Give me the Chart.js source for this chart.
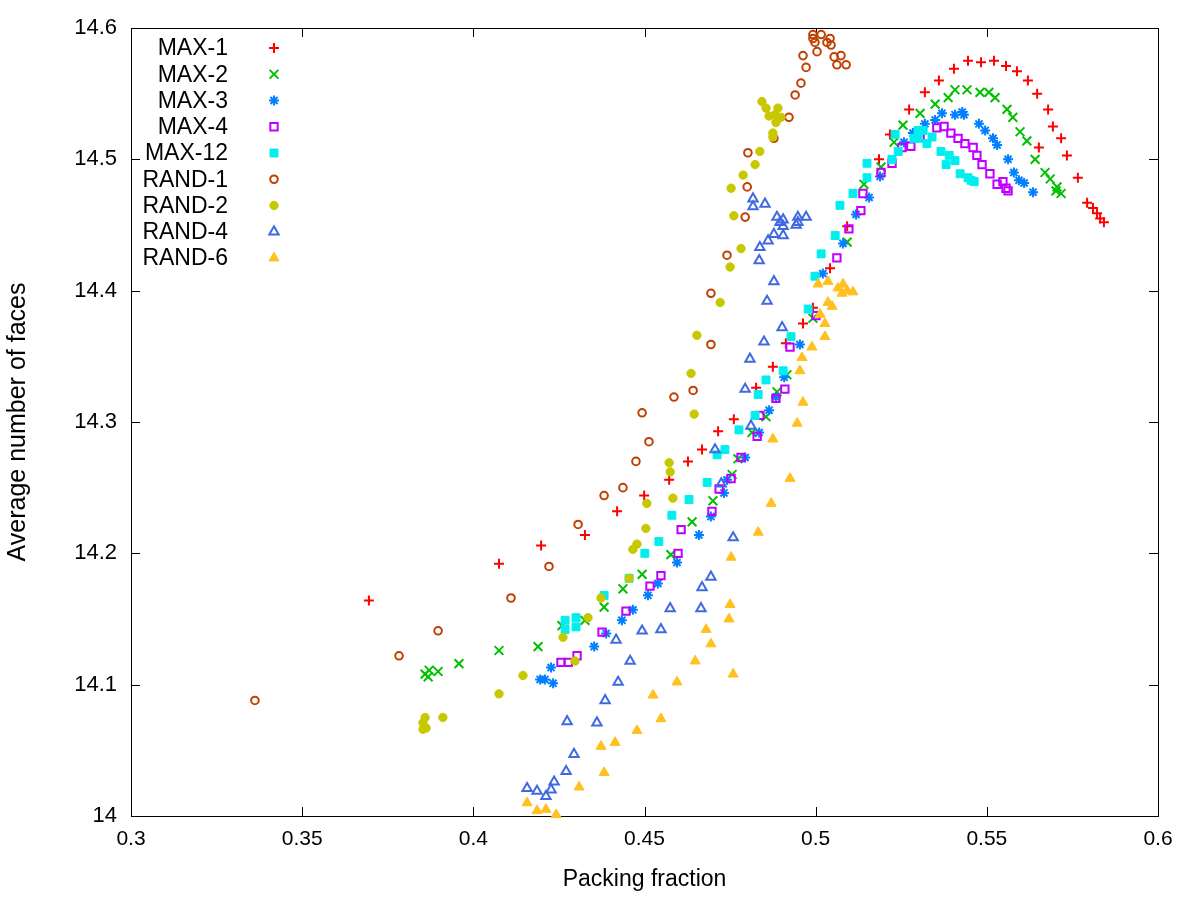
<!DOCTYPE html>
<html>
<head>
<meta charset="utf-8">
<title>Average number of faces vs packing fraction</title>
<script src="https://cdn.jsdelivr.net/npm/chart.js@4.4.1/dist/chart.umd.min.js"></script>
<style>
  html, body { margin: 0; padding: 0; background: #fff; }
  canvas { display: block; }
</style>
</head>
<body>
<canvas id="faces" width="1200" height="900"></canvas>
<script>
// series names, in the order of the key
const seriesNames = ['MAX-1', 'MAX-2', 'MAX-3', 'MAX-4', 'MAX-12', 'RAND-1', 'RAND-2', 'RAND-4', 'RAND-6'];

// [packing fraction, average number of faces]
const max1 = [[0.3695,14.164],[0.4075,14.192],[0.4198,14.206],[0.4326,14.214],[0.4420,14.232],[0.4499,14.244],[0.4572,14.256],[0.4627,14.270],[0.4668,14.279],[0.4715,14.293],[0.4761,14.302],[0.4826,14.326],[0.4875,14.342],[0.4913,14.360],[0.4963,14.375],[0.4992,14.387],[0.5042,14.417],[0.5092,14.449],[0.5185,14.500],[0.5217,14.519],[0.5273,14.538],[0.5319,14.551],[0.5360,14.560],[0.5404,14.569],[0.5445,14.575],[0.5483,14.574],[0.5521,14.575],[0.5556,14.571],[0.5588,14.567],[0.5620,14.560],[0.5647,14.550],[0.5652,14.509],[0.5679,14.538],[0.5693,14.525],[0.5717,14.516],[0.5734,14.503],[0.5766,14.486],[0.5793,14.467],[0.5810,14.463],[0.5822,14.459],[0.5831,14.455],[0.5842,14.452]];
const max2 = [[0.3859,14.108],[0.3868,14.106],[0.3871,14.111],[0.3897,14.110],[0.3958,14.116],[0.4075,14.126],[0.4189,14.129],[0.4259,14.145],[0.4326,14.149],[0.4382,14.159],[0.4437,14.173],[0.4493,14.184],[0.4577,14.199],[0.4639,14.224],[0.4700,14.240],[0.4756,14.260],[0.4773,14.272],[0.4814,14.292],[0.4855,14.304],[0.4887,14.323],[0.4916,14.336],[0.4992,14.379],[0.5092,14.437],[0.5141,14.481],[0.5191,14.494],[0.5229,14.513],[0.5255,14.526],[0.5305,14.535],[0.5349,14.542],[0.5387,14.547],[0.5407,14.553],[0.5442,14.553],[0.5480,14.551],[0.5506,14.551],[0.5524,14.547],[0.5559,14.538],[0.5576,14.532],[0.5597,14.521],[0.5617,14.514],[0.5641,14.500],[0.5670,14.490],[0.5685,14.485],[0.5705,14.479],[0.5702,14.476],[0.5717,14.474]];
const max3 = [[0.4195,14.104],[0.4209,14.104],[0.4227,14.113],[0.4233,14.101],[0.4353,14.129],[0.4388,14.139],[0.4434,14.149],[0.4466,14.157],[0.4510,14.168],[0.4539,14.177],[0.4595,14.193],[0.4659,14.214],[0.4694,14.228],[0.4732,14.246],[0.4741,14.256],[0.4794,14.273],[0.4835,14.292],[0.4864,14.309],[0.4884,14.319],[0.4908,14.334],[0.4954,14.359],[0.5021,14.413],[0.5080,14.436],[0.5118,14.458],[0.5156,14.471],[0.5188,14.487],[0.5258,14.513],[0.5284,14.520],[0.5319,14.527],[0.5349,14.530],[0.5369,14.535],[0.5407,14.534],[0.5428,14.536],[0.5433,14.534],[0.5477,14.527],[0.5495,14.522],[0.5518,14.516],[0.5530,14.511],[0.5562,14.500],[0.5579,14.490],[0.5594,14.484],[0.5609,14.482],[0.5635,14.475]];
const max4 = [[0.4256,14.117],[0.4277,14.117],[0.4303,14.122],[0.4376,14.140],[0.4446,14.156],[0.4516,14.175],[0.4548,14.183],[0.4598,14.200],[0.4607,14.218],[0.4697,14.232],[0.4718,14.249],[0.4753,14.257],[0.4782,14.273],[0.4829,14.289],[0.4837,14.305],[0.4884,14.318],[0.4910,14.325],[0.4925,14.357],[0.5001,14.381],[0.5062,14.425],[0.5097,14.447],[0.5132,14.461],[0.5138,14.474],[0.5191,14.490],[0.5223,14.497],[0.5252,14.509],[0.5278,14.510],[0.5305,14.517],[0.5354,14.524],[0.5375,14.525],[0.5395,14.520],[0.5416,14.516],[0.5436,14.512],[0.5460,14.509],[0.5471,14.503],[0.5486,14.496],[0.5509,14.489],[0.5530,14.481],[0.5547,14.483],[0.5556,14.478],[0.5562,14.476]];
const max12 = [[0.4268,14.149],[0.4268,14.142],[0.4300,14.151],[0.4300,14.144],[0.4382,14.168],[0.4455,14.181],[0.4501,14.200],[0.4542,14.209],[0.4580,14.229],[0.4630,14.241],[0.4683,14.254],[0.4712,14.275],[0.4735,14.279],[0.4776,14.294],[0.4823,14.305],[0.4832,14.321],[0.4855,14.332],[0.4905,14.339],[0.4928,14.365],[0.4978,14.386],[0.4998,14.411],[0.5016,14.428],[0.5057,14.442],[0.5071,14.465],[0.5109,14.474],[0.5150,14.486],[0.5150,14.497],[0.5223,14.500],[0.5232,14.519],[0.5241,14.506],[0.5287,14.516],[0.5299,14.522],[0.5299,14.516],[0.5314,14.522],[0.5325,14.512],[0.5340,14.517],[0.5366,14.506],[0.5381,14.496],[0.5390,14.503],[0.5407,14.499],[0.5422,14.489],[0.5445,14.486],[0.5454,14.484],[0.5463,14.483]];
const rand1 = [[0.3362,14.088],[0.3783,14.122],[0.3897,14.141],[0.4110,14.166],[0.4221,14.190],[0.4306,14.222],[0.4382,14.244],[0.4437,14.250],[0.4475,14.270],[0.4493,14.307],[0.4513,14.285],[0.4586,14.319],[0.4642,14.324],[0.4694,14.359],[0.4694,14.398],[0.4741,14.427],[0.4794,14.456],[0.4800,14.479],[0.4802,14.505],[0.4878,14.516],[0.4922,14.532],[0.4940,14.549],[0.4957,14.558],[0.4963,14.579],[0.4972,14.570],[0.4992,14.595],[0.4992,14.592],[0.4998,14.589],[0.5004,14.582],[0.5016,14.595],[0.5033,14.589],[0.5042,14.592],[0.5045,14.587],[0.5054,14.578],[0.5074,14.579],[0.5062,14.572],[0.5089,14.572]];
const rand2 = [[0.3853,14.071],[0.3853,14.066],[0.3859,14.075],[0.3862,14.067],[0.3911,14.075],[0.4075,14.093],[0.4145,14.107],[0.4262,14.136],[0.4297,14.118],[0.4335,14.151],[0.4373,14.166],[0.4455,14.181],[0.4466,14.203],[0.4478,14.207],[0.4504,14.219],[0.4507,14.238],[0.4572,14.269],[0.4575,14.262],[0.4583,14.242],[0.4645,14.306],[0.4636,14.337],[0.4653,14.366],[0.4721,14.391],[0.4750,14.418],[0.4782,14.432],[0.4761,14.457],[0.4753,14.478],[0.4788,14.488],[0.4823,14.496],[0.4837,14.506],[0.4875,14.520],[0.4875,14.517],[0.4884,14.528],[0.4843,14.544],[0.4855,14.539],[0.4864,14.533],[0.4881,14.534],[0.4890,14.539],[0.4899,14.532]];
const rand4 = [[0.4157,14.021],[0.4186,14.019],[0.4212,14.015],[0.4227,14.020],[0.4236,14.026],[0.4271,14.034],[0.4274,14.072],[0.4294,14.047],[0.4361,14.071],[0.4385,14.088],[0.4417,14.134],[0.4423,14.102],[0.4458,14.118],[0.4493,14.141],[0.4548,14.142],[0.4575,14.158],[0.4665,14.158],[0.4668,14.174],[0.4694,14.182],[0.4706,14.279],[0.4724,14.253],[0.4759,14.212],[0.4794,14.325],[0.4808,14.348],[0.4811,14.297],[0.4817,14.470],[0.4817,14.464],[0.4835,14.423],[0.4837,14.433],[0.4849,14.361],[0.4852,14.466],[0.4858,14.392],[0.4861,14.438],[0.4878,14.443],[0.4878,14.407],[0.4887,14.456],[0.4896,14.452],[0.4902,14.372],[0.4905,14.454],[0.4905,14.449],[0.4905,14.442],[0.4943,14.450],[0.4948,14.456],[0.4948,14.452],[0.4972,14.456]];
const rand6 = [[0.4157,14.010],[0.4186,14.004],[0.4212,14.005],[0.4242,14.001],[0.4309,14.022],[0.4373,14.053],[0.4382,14.033],[0.4414,14.056],[0.4478,14.065],[0.4525,14.092],[0.4548,14.074],[0.4595,14.102],[0.4648,14.118],[0.4680,14.142],[0.4694,14.131],[0.4747,14.150],[0.4750,14.161],[0.4753,14.197],[0.4759,14.108],[0.4832,14.216],[0.4870,14.238],[0.4875,14.287],[0.4925,14.257],[0.4946,14.299],[0.4954,14.339],[0.4960,14.349],[0.4963,14.315],[0.4989,14.357],[0.5007,14.405],[0.5013,14.382],[0.5027,14.375],[0.5027,14.365],[0.5036,14.407],[0.5036,14.391],[0.5048,14.388],[0.5065,14.402],[0.5077,14.398],[0.5080,14.405],[0.5092,14.400],[0.5109,14.399]];

const seriesValues = [max1, max2, max3, max4, max12, rand1, rand2, rand4, rand6];

const xTickValues = [0.3, 0.35, 0.4, 0.45, 0.5, 0.55, 0.6];
const xTickLabels = ['0.3', '0.35', '0.4', '0.45', '0.5', '0.55', '0.6'];
const yTickValues = [14, 14.1, 14.2, 14.3, 14.4, 14.5, 14.6];
const yTickLabels = ['14', '14.1', '14.2', '14.3', '14.4', '14.5', '14.6'];

// gnuplot-like marker for each series
const markers = [
  { color: '#ff0000', shape: 'cross',    radius: 5,   open: true },
  { color: '#00c000', shape: 'crossRot', radius: 6.2, open: true },
  { color: '#0080ff', shape: 'star',     radius: 5,   open: true },
  { color: '#c000ff', shape: 'rect',     radius: 5.2, open: true },
  { color: '#00eeee', shape: 'rect',     radius: 5.6, open: false },
  { color: '#c04000', shape: 'circle',   radius: 3.8, open: true },
  { color: '#c8c800', shape: 'circle',   radius: 4.2, open: false },
  { color: '#4169e1', shape: 'triangle', radius: 5.4, open: true },
  { color: '#ffc020', shape: 'triangle', radius: 5.8, open: false }
];

const FONT = '"Liberation Sans", Arial, sans-serif';
Chart.defaults.font.family = FONT;
Chart.defaults.font.size = 21;
Chart.defaults.color = '#000';

const datasets = seriesNames.map((name, i) => {
  const m = markers[i];
  return {
    label: name,
    data: seriesValues[i].map(p => ({ x: p[0], y: p[1] })),
    pointStyle: m.shape,
    pointRadius: m.radius,
    pointBorderWidth: m.open ? 2 : 1,
    borderWidth: m.open ? 2 : 1,
    borderColor: m.color,
    backgroundColor: m.open ? 'rgba(0,0,0,0)' : m.color,
    pointBackgroundColor: m.open ? 'rgba(0,0,0,0)' : m.color,
    pointBorderColor: m.color,
    showLine: false,
    clip: false,
    order: seriesNames.length - i  // later series drawn on top, as gnuplot does
  };
});

// border box with inward ticks on all four sides
const frame = {
  id: 'frame',
  beforeDatasetsDraw(chart) {
    const { ctx, chartArea: a, scales } = chart;
    const len = 9;
    ctx.save();
    ctx.strokeStyle = '#000';
    ctx.lineWidth = 1;
    ctx.beginPath();
    xTickValues.forEach(v => {
      const px = Math.round(scales.x.getPixelForValue(v)) + 0.5;
      ctx.moveTo(px, a.bottom); ctx.lineTo(px, a.bottom - len);
      ctx.moveTo(px, a.top); ctx.lineTo(px, a.top + len);
    });
    yTickValues.forEach(v => {
      const py = Math.round(scales.y.getPixelForValue(v)) + 0.5;
      ctx.moveTo(a.left, py); ctx.lineTo(a.left + len, py);
      ctx.moveTo(a.right, py); ctx.lineTo(a.right - len, py);
    });
    ctx.stroke();
    ctx.strokeRect(Math.round(a.left) + 0.5, Math.round(a.top) + 0.5,
                   Math.round(a.right - a.left), Math.round(a.bottom - a.top));
    ctx.restore();
  }
};

// key in the top-left corner: label, then marker to its right
const key = {
  id: 'key',
  afterDatasetsDraw(chart) {
    const { ctx, chartArea: a } = chart;
    ctx.save();
    chart.data.datasets.forEach((ds, i) => {
      const y = a.top + 20 + i * 26.25;
      ctx.font = '23px ' + FONT;
      ctx.textAlign = 'right';
      ctx.textBaseline = 'middle';
      ctx.fillStyle = '#000';
      ctx.fillText(ds.label, a.left + 97, y + 1);
      ctx.strokeStyle = ds.pointBorderColor;
      ctx.fillStyle = ds.pointBackgroundColor;
      ctx.lineWidth = ds.pointBorderWidth;
      Chart.helpers.drawPoint(ctx, {
        pointStyle: ds.pointStyle,
        radius: ds.pointRadius,
        borderWidth: ds.pointBorderWidth,
        rotation: 0
      }, a.left + 143, y);
    });
    ctx.restore();
  }
};

new Chart(document.getElementById('faces'), {
  type: 'scatter',
  data: { datasets },
  plugins: [frame, key],
  options: {
    responsive: false,
    animation: false,
    events: [],
    layout: { padding: { top: 28, right: 42, left: 0, bottom: 0 } },
    plugins: { legend: { display: false }, tooltip: { enabled: false } },
    scales: {
      x: {
        type: 'linear',
        min: 0.3,
        max: 0.6,
        grid: { display: false, drawTicks: false },
        border: { display: false },
        afterBuildTicks: axis => { axis.ticks = xTickValues.map(v => ({ value: v })); },
        afterFit: axis => { axis.height = 84; },
        ticks: {
          autoSkip: false,
          maxRotation: 0,
          padding: 11,
          color: '#000',
          callback: (v, i) => xTickLabels[i]
        },
        title: { display: true, text: 'Packing fraction', color: '#000', font: { size: 23 },
                 padding: { top: 0, bottom: 7 } }
      },
      y: {
        type: 'linear',
        min: 14,
        max: 14.6,
        grid: { display: false, drawTicks: false },
        border: { display: false },
        afterBuildTicks: axis => { axis.ticks = yTickValues.map(v => ({ value: v })); },
        afterFit: axis => { axis.width = 131; },
        ticks: {
          autoSkip: false,
          padding: 14,
          color: '#000',
          font: { size: 22 },
          callback: (v, i) => yTickLabels[i]
        },
        title: { display: true, text: 'Average number of faces', color: '#000', font: { size: 25 },
                 padding: { top: 3, bottom: 0 } }
      }
    }
  }
});
</script>
</body>
</html>
